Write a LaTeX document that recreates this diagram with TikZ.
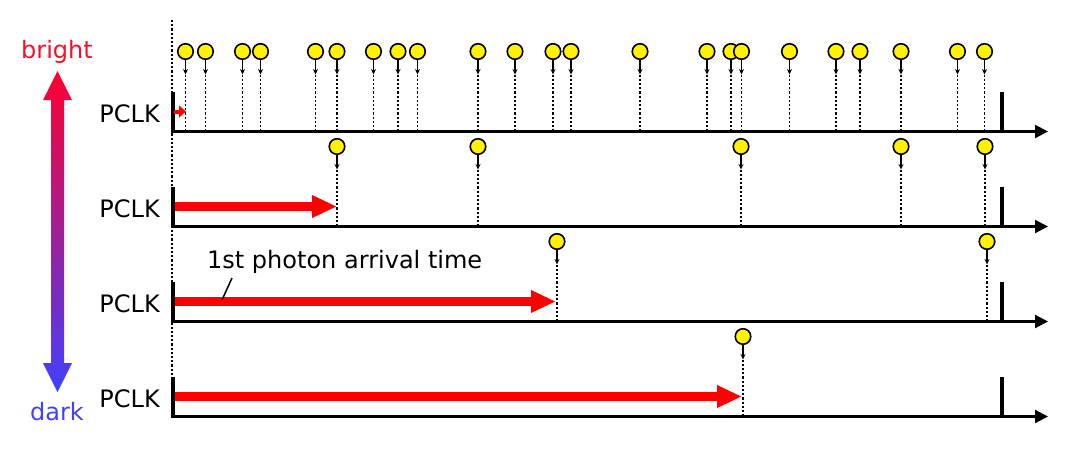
\documentclass[tikz,border=0pt]{standalone}
\usepackage{fontspec}
\setmainfont{DejaVu Sans}
\usetikzlibrary{arrows.meta}
\definecolor{brightred}{RGB}{245,15,40}
\definecolor{darkblue}{RGB}{64,64,255}
\definecolor{gtop}{RGB}{255,0,45}
\definecolor{gmid}{RGB}{205,30,165}
\definecolor{gbot}{RGB}{64,64,255}
\begin{document}
\begin{tikzpicture}[x=1pt,y=-1pt,
  photon/.style={circle,draw=black,line width=1.6pt,fill=yellow,minimum size=15.5pt,inner sep=0pt},
  stem/.style={line width=1.6pt,-{Stealth[length=5.5pt,width=5pt]}},
  dotline/.style={line width=1.5pt,dash pattern=on 2.2pt off 2pt},
  axisline/.style={line width=2.2pt,-{Triangle[length=13pt,width=13pt]}},
  barline/.style={line width=4pt},
  redarrow/.style={red,line width=9.5pt,-{Triangle[length=25pt,width=21pt]}},
  lbl/.style={font=\fontsize{24}{28}\selectfont,inner sep=0pt},
]
\useasboundingbox (0,0) rectangle (1080,451);

% main dotted vertical
\coordinate (vtop) at (172,20);
\coordinate (vbot) at (172,378);
\draw[dotline] (vtop) -- (vbot);

% brightness arrow
\shade[top color=gtop,middle color=gmid,bottom color=gbot]
  (57.5,71) -- (72,100) -- (64,100) -- (64,363) -- (72,363) -- (57.5,392)
  -- (43,363) -- (51,363) -- (51,100) -- (43,100) -- cycle;
\node[lbl,text=brightred,anchor=base] (bright) at (57,58) {bright};
\node[lbl,text=darkblue,anchor=base] (dark) at (57,420) {dark};

% rows: axes, bars, labels
\foreach \r/\y in {1/131.5,2/226.5,3/321.5,4/416.5}{
  \coordinate (as\r) at (172,\y);
  \coordinate (ae\r) at (1048,\y);
  \draw[axisline] (as\r) -- (ae\r);
  \coordinate (bs\r) at (173,\y-40);
  \coordinate (bsb\r) at (173,\y+1);
  \draw[barline] (bs\r) -- (bsb\r);
  \coordinate (be\r) at (1002,\y-40);
  \coordinate (beb\r) at (1002,\y);
  \draw[barline] (be\r) -- (beb\r);
  \node[lbl,anchor=base east] (pclk\r) at (160,\y-9) {PCLK};
}

% photons
\foreach \r/\y/\list in {
  1/131.5/{185.5,205.5,242.5,260.5,315.5,337,373.5,398,417.5,478,515,553,571,640,707,731,741.5,789.5,836,860,901,957.5,984.5},
  2/226.5/{337,478,741,901,985},
  3/321.5/{557,987},
  4/416.5/{743}}{
  \foreach \x [count=\i] in \list {
    \node[photon] (p\r-\i) at (\x,\y-80) {};
    \coordinate (s\r-\i) at (\x,\y-57);
    \coordinate (d\r-\i) at (\x,\y);
    \draw[dotline] (s\r-\i) -- (d\r-\i);
    \draw[stem] (p\r-\i) -- (s\r-\i);
  }
}

% red arrows
\coordinate (r1s) at (174,111.5);
\coordinate (r1e) at (186,111.5);
\draw[red,line width=4pt,-{Triangle[length=7pt,width=12pt]}] (r1s) -- (r1e);
\coordinate (r2s) at (175,206.5);
\coordinate (r2e) at (337,206.5);
\draw[redarrow] (r2s) -- (r2e);
\coordinate (r3s) at (175,301.5);
\coordinate (r3e) at (556,301.5);
\draw[redarrow] (r3s) -- (r3e);
\coordinate (r4s) at (175,396.5);
\coordinate (r4e) at (742,396.5);
\draw[redarrow] (r4s) -- (r4e);

% label with leader
\node[lbl,anchor=base west] (arr) at (207,268) {1st photon arrival time};
\coordinate (l1) at (232,278);
\coordinate (l2) at (222,300);
\draw[line width=1.5pt] (l1) -- (l2);
\end{tikzpicture}
\end{document}
